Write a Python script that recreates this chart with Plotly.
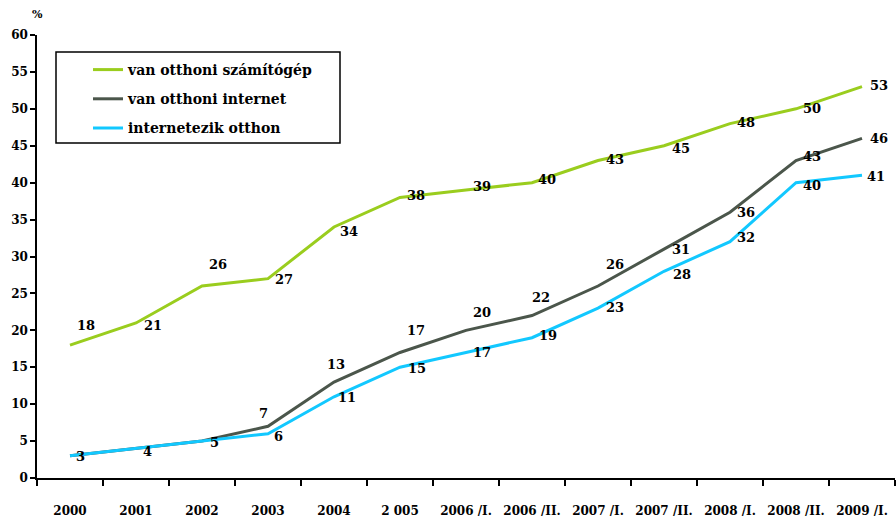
import plotly.graph_objects as go

categories = ["2000", "2001", "2002", "2003", "2004", "2 005", "2006 /I.", "2006 /II.",
              "2007 /I.", "2007 /II.", "2008 /I.", "2008 /II.", "2009 /I."]
computer = [18, 21, 26, 27, 34, 38, 39, 40, 43, 45, 48, 50, 53]
internet = [3, 4, 5, 7, 13, 17, 20, 22, 26, 31, 36, 43, 46]
internet_use = [3, 4, 5, 6, 11, 15, 17, 19, 23, 28, 32, 40, 41]
series_names = ["van otthoni számítógép", "van otthoni internet", "internetezik otthon"]
y_ticks = [0, 5, 10, 15, 20, 25, 30, 35, 40, 45, 50, 55, 60]

colors = ["#9ACD1E", "#4B564B", "#12C8FF"]

# label offsets (px): (xshift, yshift) ; yshift positive = up
off_computer = [(16, 20), (17, -3), (16, 22), (16, -1), (15, -5), (16, 2), (16, 4),
                (15, 3), (17, 1), (17, -3), (16, 1), (16, 0), (17, 1)]
off_internet = [None, None, None, (-5, 13), (2, 18), (16, 22), (16, 18), (9, 18),
                (17, 22), (17, 0), (16, 0), (16, 4), (17, 0)]
off_use = [(10, -1), (11, -3), (12, -1), (10, -3), (13, -1), (17, -1), (16, 0),
           (16, 2), (17, 1), (18, -3), (16, 4), (16, -3), (14, -1)]

FONT = "DejaVu Serif"
idx = list(range(len(categories)))

fig = go.Figure()
for name, vals, col in zip(series_names, [computer, internet, internet_use], colors):
    fig.add_trace(go.Scatter(x=idx, y=vals, mode="lines", name=name,
                             line=dict(color=col, width=3), legendgroup=name))

annotations = []
for vals, offs in [(computer, off_computer), (internet, off_internet), (internet_use, off_use)]:
    for i, v, o in zip(idx, vals, offs):
        if o is None:
            continue
        annotations.append(dict(x=i, y=v, text=str(v), showarrow=False,
                                xshift=o[0], yshift=o[1],
                                font=dict(family=FONT, size=13, color="black", weight="bold")))

annotations.append(dict(x=0.0, y=1.0, xref="paper", yref="paper", text="%", showarrow=False,
                        xanchor="center", yanchor="bottom", yshift=12,
                        font=dict(family=FONT, size=11, color="black", weight="bold")))

fig.update_layout(
    width=896, height=522,
    margin=dict(l=37, r=1, t=35, b=44),
    paper_bgcolor="white", plot_bgcolor="white",
    showlegend=True,
    legend=dict(x=(88 - 37) / 858, y=(478 - 54) / 443, xanchor="left", yanchor="top",
                bgcolor="rgba(0,0,0,0)", borderwidth=0,
                font=dict(family=FONT, size=14, color="black", weight="bold"),
                tracegroupgap=8, itemwidth=30),
    annotations=annotations,
    shapes=[dict(type="rect", xref="paper", yref="paper",
                 x0=(56 - 37) / 858, x1=(340 - 37) / 858,
                 y0=(478 - 143) / 443, y1=(478 - 52) / 443,
                 line=dict(color="black", width=1.5), fillcolor="rgba(0,0,0,0)")],
    xaxis=dict(range=[-0.5, 12.5], tickmode="array", tickvals=idx, ticktext=categories,
               showgrid=False, zeroline=False, automargin=False,
               showline=True, linecolor="black", linewidth=1.5,
               ticks="", ticklabelstandoff=21, tickangle=0,
               tickfont=dict(family=FONT, size=12, color="black", weight="bold"),
               minor=dict(tickmode="array", tickvals=[i - 0.5 for i in idx] + [12.5],
                          ticks="outside", ticklen=6, tickcolor="black", tickwidth=1.5,
                          showgrid=False)),
    yaxis=dict(range=[0, 60], tickvals=y_ticks, showgrid=False, zeroline=False,
               automargin=False,
               showline=True, linecolor="black", linewidth=1.5,
               ticks="outside", ticklen=5, tickcolor="black", tickwidth=1.5,
               tickfont=dict(family=FONT, size=12, color="black", weight="bold")),
)

fig.write_html("out.html", config={"displayModeBar": False},
               post_script="document.body.style.margin='0';document.body.style.padding='0';"
                           "document.body.style.overflow='hidden';")
